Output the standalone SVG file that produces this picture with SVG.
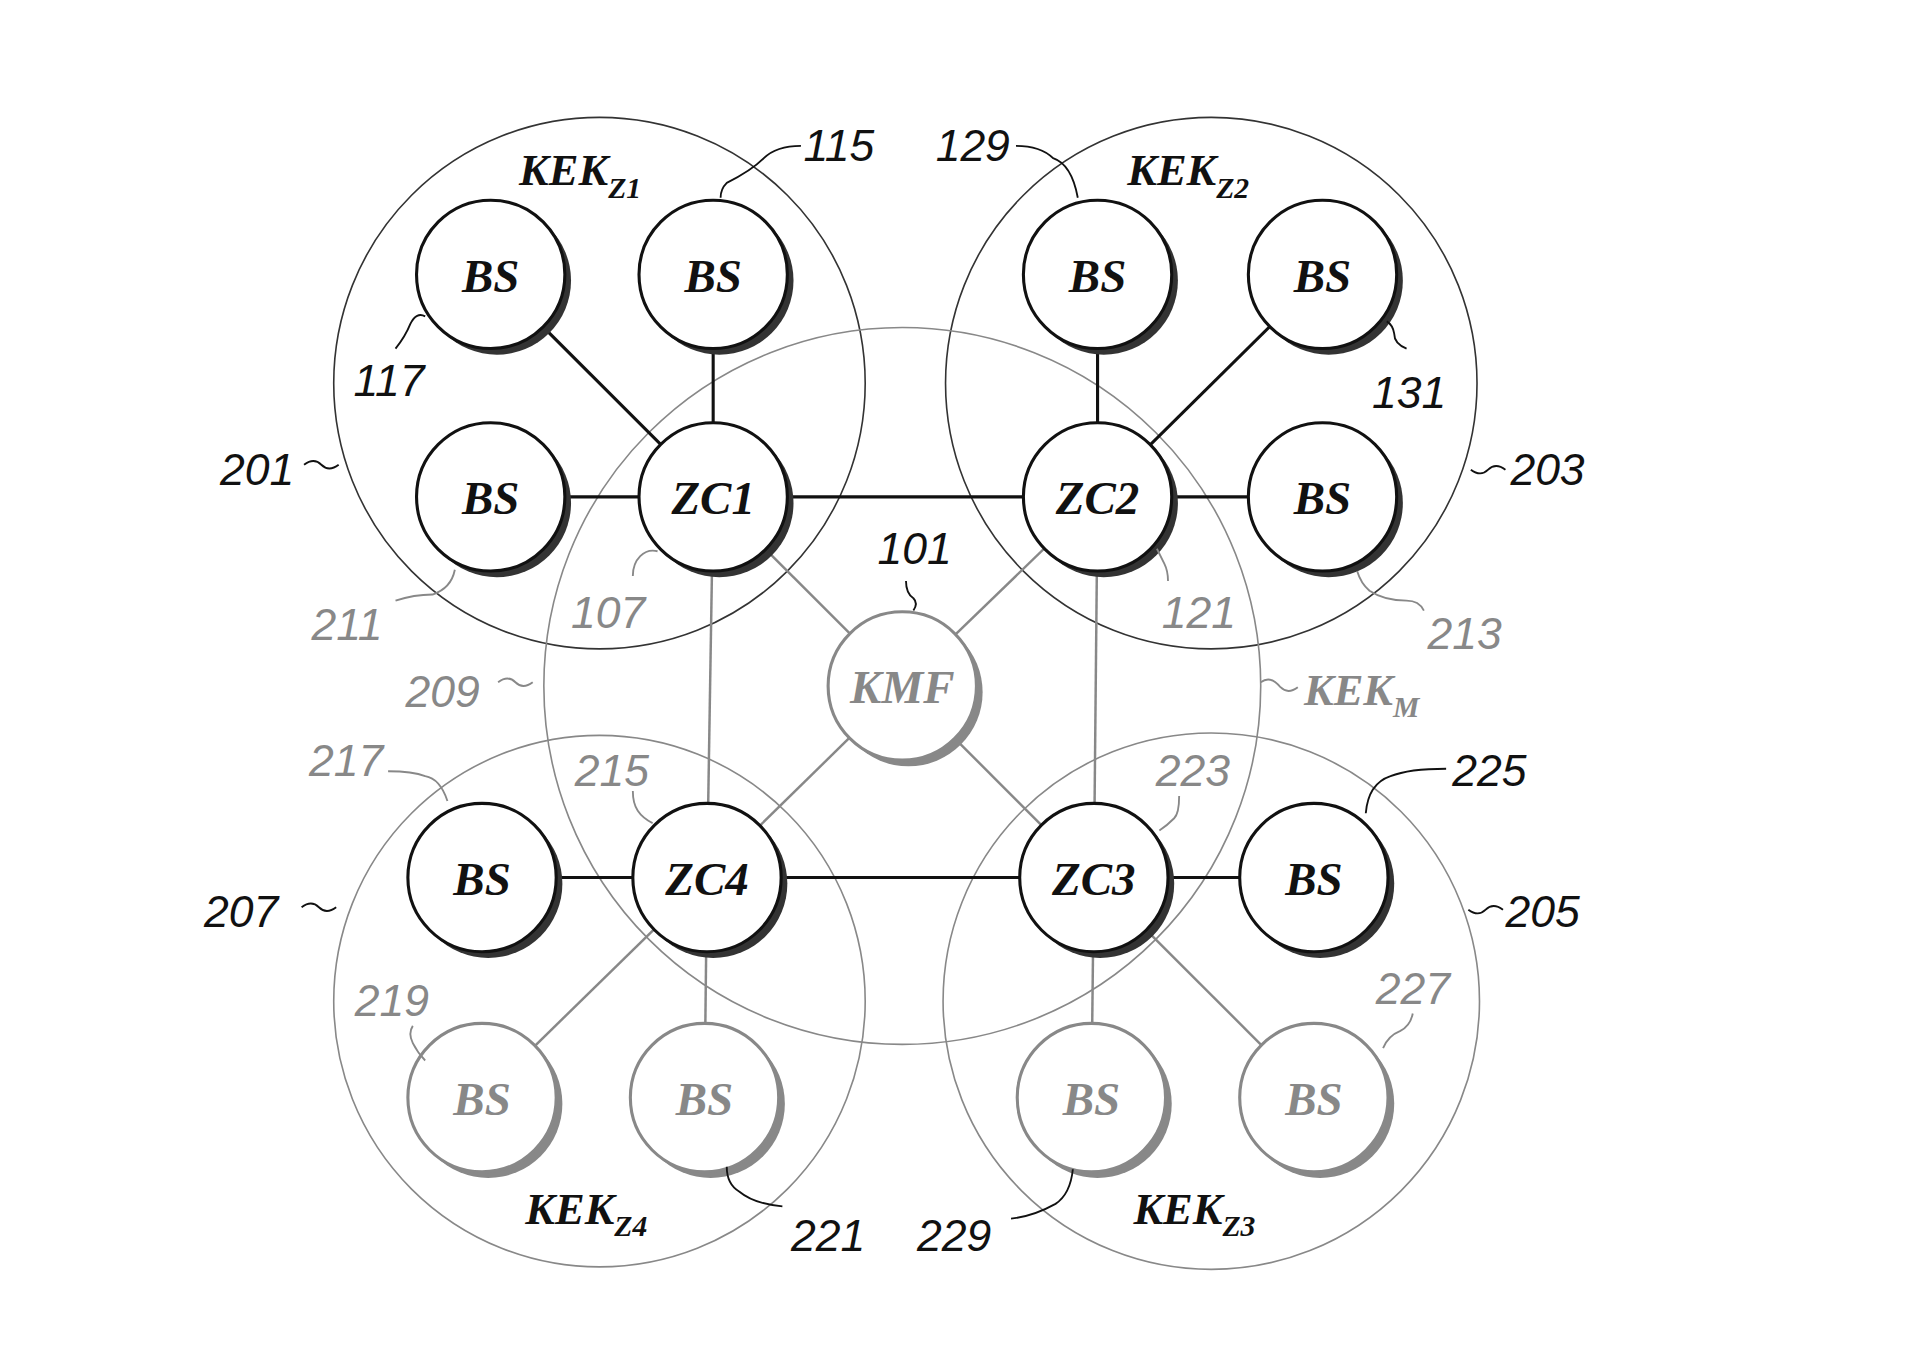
<svg xmlns="http://www.w3.org/2000/svg" width="1916" height="1371" viewBox="0 0 1916 1371">
<style>
.zone{fill:none;stroke:#333;stroke-width:1.3}
.zg{fill:none;stroke:#888;stroke-width:1.3}
.sh{fill:#333}
.shg{fill:#888}
.n{fill:#fff;stroke:#111;stroke-width:2.5}
.ng{fill:#fff;stroke:#888;stroke-width:2.5}
.t{font-family:"Liberation Serif",serif;font-weight:bold;font-style:italic;font-size:38px;text-anchor:middle;fill:#111}
.tg{font-family:"Liberation Serif",serif;font-weight:bold;font-style:italic;font-size:38px;text-anchor:middle;fill:#888}
.k{font-family:"Liberation Serif",serif;font-weight:bold;font-style:italic;font-size:36px;fill:#111}
.kg{font-family:"Liberation Serif",serif;font-weight:bold;font-style:italic;font-size:36px;fill:#888}
.l{font-family:"Liberation Sans",sans-serif;font-style:italic;font-size:36px;fill:#111}
.lg{font-family:"Liberation Sans",sans-serif;font-style:italic;font-size:36px;fill:#888}
.c{stroke:#111;stroke-width:2.5}
.cg{stroke:#888;stroke-width:2}
.ld{fill:none;stroke:#111;stroke-width:1.5}
.ldg{fill:none;stroke:#888;stroke-width:1.5}
</style>
<g transform="scale(1.236)">
<g id="zones">
<circle class="zone" cx="485" cy="310" r="215"/>
<circle class="zone" cx="980" cy="310" r="215"/>
<circle class="zg" cx="980" cy="810" r="217"/>
<circle class="zg" cx="485" cy="810" r="215"/>
<circle class="zg" cx="730" cy="555" r="290"/>
</g>
<g id="connectors">
<line class="c" x1="397" y1="222" x2="577" y2="402"/>
<line class="c" x1="577" y1="222" x2="577" y2="402"/>
<line class="c" x1="397" y1="402" x2="577" y2="402"/>
<line class="c" x1="577" y1="402" x2="888" y2="402"/>
<line class="c" x1="888" y1="222" x2="888" y2="402"/>
<line class="c" x1="1070" y1="222" x2="888" y2="402"/>
<line class="c" x1="888" y1="402" x2="1070" y2="402"/>
<line class="c" x1="390" y1="710" x2="572" y2="710"/>
<line class="c" x1="572" y1="710" x2="885" y2="710"/>
<line class="c" x1="885" y1="710" x2="1063" y2="710"/>
<line class="cg" x1="577" y1="402" x2="572" y2="710"/>
<line class="cg" x1="888" y1="402" x2="885" y2="710"/>
<line class="cg" x1="577" y1="402" x2="730" y2="555"/>
<line class="cg" x1="888" y1="402" x2="730" y2="555"/>
<line class="cg" x1="572" y1="710" x2="730" y2="555"/>
<line class="cg" x1="885" y1="710" x2="730" y2="555"/>
<line class="cg" x1="572" y1="710" x2="390" y2="888"/>
<line class="cg" x1="572" y1="710" x2="570" y2="888"/>
<line class="cg" x1="885" y1="710" x2="883" y2="888"/>
<line class="cg" x1="885" y1="710" x2="1063" y2="888"/>
</g>
<g id="bs117"><circle class="sh" cx="402" cy="227" r="60"/><circle class="n" cx="397" cy="222" r="60"/><text class="t" x="397" y="236">BS</text></g>
<g id="bs115"><circle class="sh" cx="582" cy="227" r="60"/><circle class="n" cx="577" cy="222" r="60"/><text class="t" x="577" y="236">BS</text></g>
<g id="bs211"><circle class="sh" cx="402" cy="407" r="60"/><circle class="n" cx="397" cy="402" r="60"/><text class="t" x="397" y="416">BS</text></g>
<g id="zc1"><circle class="sh" cx="582" cy="407" r="60"/><circle class="n" cx="577" cy="402" r="60"/><text class="t" x="577" y="416">ZC1</text></g>
<g id="bs129"><circle class="sh" cx="893" cy="227" r="60"/><circle class="n" cx="888" cy="222" r="60"/><text class="t" x="888" y="236">BS</text></g>
<g id="bs131"><circle class="sh" cx="1075" cy="227" r="60"/><circle class="n" cx="1070" cy="222" r="60"/><text class="t" x="1070" y="236">BS</text></g>
<g id="zc2"><circle class="sh" cx="893" cy="407" r="60"/><circle class="n" cx="888" cy="402" r="60"/><text class="t" x="888" y="416">ZC2</text></g>
<g id="bs213"><circle class="sh" cx="1075" cy="407" r="60"/><circle class="n" cx="1070" cy="402" r="60"/><text class="t" x="1070" y="416">BS</text></g>
<g id="kmf"><circle class="shg" cx="735" cy="560" r="60"/><circle class="ng" cx="730" cy="555" r="60"/><text class="tg" x="730" y="569">KMF</text></g>
<g id="bs217"><circle class="sh" cx="395" cy="715" r="60"/><circle class="n" cx="390" cy="710" r="60"/><text class="t" x="390" y="724">BS</text></g>
<g id="zc4"><circle class="sh" cx="577" cy="715" r="60"/><circle class="n" cx="572" cy="710" r="60"/><text class="t" x="572" y="724">ZC4</text></g>
<g id="zc3"><circle class="sh" cx="890" cy="715" r="60"/><circle class="n" cx="885" cy="710" r="60"/><text class="t" x="885" y="724">ZC3</text></g>
<g id="bs225"><circle class="sh" cx="1068" cy="715" r="60"/><circle class="n" cx="1063" cy="710" r="60"/><text class="t" x="1063" y="724">BS</text></g>
<g id="bs219"><circle class="shg" cx="395" cy="893" r="60"/><circle class="ng" cx="390" cy="888" r="60"/><text class="tg" x="390" y="902">BS</text></g>
<g id="bs221"><circle class="shg" cx="575" cy="893" r="60"/><circle class="ng" cx="570" cy="888" r="60"/><text class="tg" x="570" y="902">BS</text></g>
<g id="bs229"><circle class="shg" cx="888" cy="893" r="60"/><circle class="ng" cx="883" cy="888" r="60"/><text class="tg" x="883" y="902">BS</text></g>
<g id="bs227"><circle class="shg" cx="1068" cy="893" r="60"/><circle class="ng" cx="1063" cy="888" r="60"/><text class="tg" x="1063" y="902">BS</text></g>
<g id="labels">
<text class="k" x="420" y="150">KEK<tspan font-size="24" dy="10">Z1</tspan></text>
<text class="k" x="912" y="150">KEK<tspan font-size="24" dy="10">Z2</tspan></text>
<text class="k" x="425" y="990">KEK<tspan font-size="24" dy="10">Z4</tspan></text>
<text class="k" x="917" y="990">KEK<tspan font-size="24" dy="10">Z3</tspan></text>
<text class="kg" x="1055" y="570">KEK<tspan font-size="24" dy="10">M</tspan></text>
<path class="ldg" d="M1020 552 q8 -6 16 4 q6 6 14 0"/>
<text class="l" x="650" y="130">115</text><path class="ld" d="M648 118 q-20 0 -30 10 q-10 10 -30 20 q-5 5 -5 12"/>
<text class="l" x="757" y="130">129</text><path class="ld" d="M822 118 q20 0 30 10 q15 5 20 32"/>
<text class="l" x="286" y="320">117</text><path class="ld" d="M320 282 q8 -10 12 -20 q5 -10 12 -6"/>
<text class="l" x="1110" y="330">131</text><path class="ld" d="M1122 260 q5 3 6 10 q0 8 10 12"/>
<text class="l" x="178" y="392">201</text><path class="ld" d="M246 376 q8 -6 14 0 q6 6 14 0"/>
<text class="l" x="1222" y="392">203</text><path class="ld" d="M1190 380 q8 6 14 0 q6 -6 14 0"/>
<text class="l" x="165" y="750">207</text><path class="ld" d="M244 734 q8 -6 14 0 q6 6 14 0"/>
<text class="l" x="1218" y="750">205</text><path class="ld" d="M1188 736 q8 6 14 0 q6 -6 14 0"/>
<text class="lg" x="252" y="518">211</text><path class="ldg" d="M320 486 q15 -5 30 -5 q15 -5 18 -20"/>
<text class="lg" x="462" y="508">107</text><path class="ldg" d="M512 466 q0 -10 6 -16 q6 -6 14 -4"/>
<text class="l" x="710" y="456">101</text><path class="ld" d="M733 470 q0 10 6 14 q4 4 0 10"/>
<text class="lg" x="940" y="508">121</text><path class="ldg" d="M945 470 q0 -8 -3 -14 q-3 -6 -6 -12"/>
<text class="lg" x="1155" y="525">213</text><path class="ldg" d="M1098 462 q3 10 10 16 q12 8 30 8 q10 0 14 8"/>
<text class="lg" x="328" y="572">209</text><path class="ldg" d="M403 552 q8 -6 14 0 q6 6 14 0"/>
<text class="lg" x="250" y="628">217</text><path class="ldg" d="M314 624 q20 0 30 4 q12 2 18 20"/>
<text class="lg" x="465" y="636">215</text><path class="ldg" d="M512 640 q0 10 4 16 q4 6 12 10"/>
<text class="lg" x="935" y="636">223</text><path class="ldg" d="M954 644 q0 14 -4 18 q-6 6 -12 10"/>
<text class="l" x="1175" y="636">225</text><path class="ld" d="M1170 622 q-30 0 -45 6 q-18 6 -20 30"/>
<text class="lg" x="287" y="822">219</text><path class="ldg" d="M334 830 q-4 6 0 14 q4 8 10 14"/>
<text class="lg" x="1113" y="812">227</text><path class="ldg" d="M1143 820 q-2 10 -10 14 q-10 4 -14 14"/>
<text class="l" x="640" y="1012">221</text><path class="ld" d="M588 944 q0 14 10 20 q12 10 35 12"/>
<text class="l" x="742" y="1012">229</text><path class="ld" d="M818 986 q18 -2 36 -12 q12 -8 14 -28"/>
</g>
</g>
</svg>
